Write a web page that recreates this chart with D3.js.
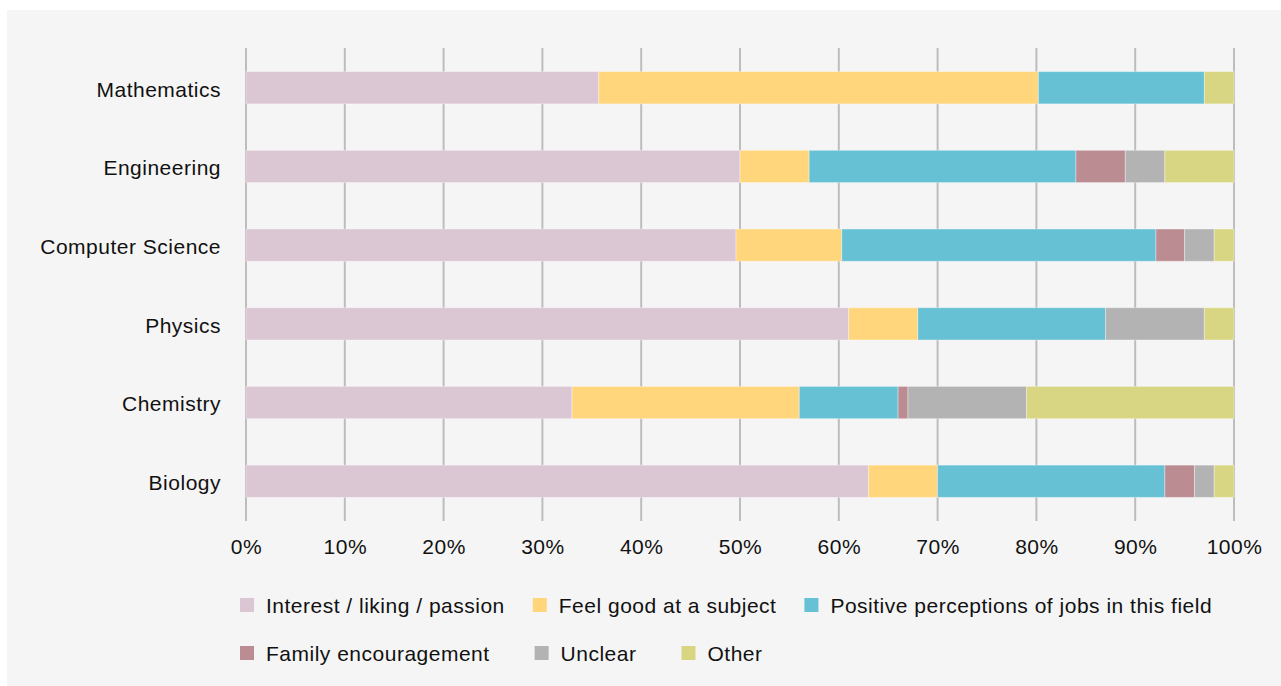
<html>
<head>
    <style>
        body {
            margin: 0;
            background: #ffffff;
            font-family: "Liberation Sans", Arial, sans-serif;
        }
        .grid line {
            stroke: #bdbdbd;
            stroke-width: 2;
        }
        text {
            letter-spacing: 0.5px;
        }
    </style>
    <script src="https://cdn.jsdelivr.net/npm/d3@7"></script>
</head>
<body>
    <div class="mainView"></div>
</body>
<script>
    // values (percent of respondents)
    let categories = ["Mathematics", "Engineering", "Computer Science", "Physics", "Chemistry", "Biology"];
    let seriesNames = ["Interest / liking / passion", "Feel good at a subject",
        "Positive perceptions of jobs in this field", "Family encouragement", "Unclear", "Other"];
    let interest = [35.7, 50, 49.6, 61, 33, 63];
    let feelGood = [44.5, 7, 10.7, 7, 23, 7];
    let jobs = [16.8, 27, 31.8, 19, 10, 23];
    let family = [0, 5, 2.9, 0, 1, 3];
    let unclear = [0, 4, 3, 10, 12, 2];
    let other = [3, 7, 2, 3, 21, 2];
    let tickValues = [0, 10, 20, 30, 40, 50, 60, 70, 80, 90, 100];
    let colors = ["#dbc6d3", "#ffd67c", "#67c1d5", "#bb8d93", "#b3b3b3", "#d9d683"];

    function getConfig() {
        let width = 1281;
        let height = 686;
        let svg = d3.select(".mainView")
            .append("svg")
            .attr("width", width)
            .attr("height", height)
            .style("display", "block");
        svg.append("rect")
            .attr("x", 7).attr("y", 10)
            .attr("width", width - 7).attr("height", height - 10)
            .attr("fill", "#f5f5f5");
        return { width, height, svg };
    }

    function getScales() {
        let xScale = d3.scaleLinear()
            .domain([0, 100])
            .range([246, 1234]);
        let yScale = d3.scaleBand()
            .domain(categories)
            .range([48, 521])
            .paddingInner(0.59)
            .paddingOuter(0.3);
        let cScale = d3.scaleOrdinal()
            .domain(seriesNames)
            .range(colors);
        return { xScale, yScale, cScale };
    }

    function drawAxes(scales, config) {
        let { xScale, yScale } = scales;
        let { svg } = config;
        let grid = svg.append("g").attr("class", "grid");
        grid.selectAll("line")
            .data(tickValues)
            .enter()
            .append("line")
            .attr("x1", d => xScale(d))
            .attr("x2", d => xScale(d))
            .attr("y1", 48)
            .attr("y2", 521);

        let axisX = d3.axisBottom(xScale)
            .tickValues(tickValues)
            .tickFormat(d => d + "%")
            .tickSize(0)
            .tickPadding(0);
        let gx = svg.append("g")
            .attr("transform", "translate(0,547)")
            .call(axisX);
        gx.select(".domain").remove();
        gx.selectAll("text")
            .attr("dy", "0.35em")
            .attr("y", 0)
            .style("font-family", "'Liberation Sans', Arial, sans-serif")
            .style("font-size", "21px")
            .attr("fill", "#111");

        let axisY = d3.axisLeft(yScale)
            .tickSize(0)
            .tickPadding(25);
        let gy = svg.append("g")
            .attr("transform", "translate(246,0)")
            .call(axisY);
        gy.select(".domain").remove();
        gy.selectAll("text")
            .attr("dy", "0.42em")
            .style("font-family", "'Liberation Sans', Arial, sans-serif")
            .style("font-size", "21px")
            .attr("fill", "#111");
    }

    function drawBars(scales, config) {
        let { xScale, yScale, cScale } = scales;
        let { svg } = config;
        let allSeries = [interest, feelGood, jobs, family, unclear, other];
        let table = categories.map((c, i) => {
            let row = { category: c };
            seriesNames.forEach((s, j) => row[s] = allSeries[j][i]);
            return row;
        });
        let stacked = d3.stack().keys(seriesNames)(table);
        svg.append("g")
            .selectAll("g")
            .data(stacked)
            .enter()
            .append("g")
            .attr("fill", d => cScale(d.key))
            .selectAll("rect")
            .data(d => d.filter(p => p[1] - p[0] > 0))
            .enter()
            .append("rect")
            .attr("x", d => xScale(d[0]))
            .attr("width", d => xScale(d[1]) - xScale(d[0]))
            .attr("y", d => yScale(d.data.category))
            .attr("height", yScale.bandwidth())
            .attr("stroke", "rgba(255,255,255,0.35)")
            .attr("stroke-width", 1);
    }

    function drawLegend(scales, config) {
        let { cScale } = scales;
        let { svg } = config;
        let rows = [
            { items: seriesNames.slice(0, 3), y: 605, gap: 28 },
            { items: seriesNames.slice(3), y: 653, gap: 45 }
        ];
        rows.forEach(row => {
            let x = 240;
            row.items.forEach(name => {
                let g = svg.append("g").attr("transform", "translate(" + [x, row.y] + ")");
                g.append("rect")
                    .attr("x", 0).attr("y", -7)
                    .attr("width", 14).attr("height", 14)
                    .attr("fill", cScale(name));
                let t = g.append("text")
                    .attr("x", 26)
                    .attr("dy", "0.36em")
                    .style("font-size", "21px")
                    .attr("fill", "#111")
                    .text(name);
                x += 26 + t.node().getComputedTextLength() + row.gap;
            });
        });
    }

    function showChart() {
        let config = getConfig();
        let scales = getScales();
        drawAxes(scales, config);
        drawBars(scales, config);
        drawLegend(scales, config);
    }
    showChart();
</script>
</html>
